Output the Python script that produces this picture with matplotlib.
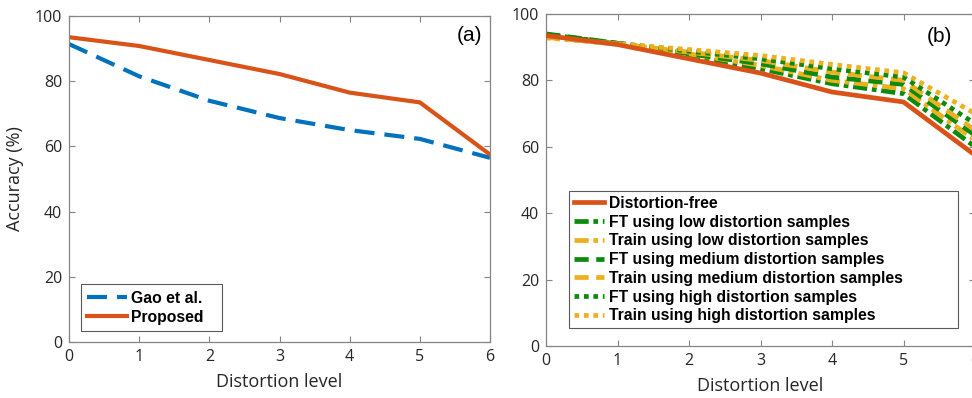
import matplotlib.pyplot as plt
import numpy as np

# distortion levels on the x axis
levels = [0, 1, 2, 3, 4, 5, 6]

# panel (a)
gao = [91.4, 81.5, 74.0, 68.7, 65.0, 62.3, 56.5]
proposed = [93.5, 90.8, 86.5, 82.2, 76.5, 73.5, 57.5]

# panel (b)
free = [93.5, 90.8, 86.5, 82.2, 76.5, 73.5, 57.5]
ft_low = [93.8, 91.0, 87.3, 83.5, 79.0, 76.0, 60.0]
train_low = [93.0, 91.0, 88.0, 84.5, 80.0, 77.5, 62.0]
ft_med = [94.0, 91.2, 88.0, 85.0, 81.0, 78.8, 63.5]
train_med = [93.0, 91.0, 88.5, 86.0, 82.5, 80.0, 65.0]
ft_high = [93.8, 91.2, 88.8, 86.5, 83.5, 81.0, 67.0]
train_high = [92.8, 91.0, 89.3, 87.5, 84.8, 82.3, 70.0]

yticks = [0, 20, 40, 60, 80, 100]

blue = '#0072BD'
orange = '#D95319'
green = '#0b8a0b'
yellow = '#EDB120'
axcol = '#858585'
txtcol = '#262626'

plt.rcParams['font.family'] = ['Open Sans', 'DejaVu Sans']

fig = plt.figure(figsize=(9.72, 3.98), dpi=100)
W, H = 972, 398
ax1 = fig.add_axes([69 / W, 1 - 342 / H, (490 - 69) / W, (342 - 16) / H])
ax2 = fig.add_axes([546 / W, 1 - 346 / H, (975 - 546) / W, (346 - 14) / H])


def style(ax):
    ax.set_xlim(0, 6)
    ax.set_ylim(0, 100)
    ax.set_xticks(levels)
    ax.set_yticks(yticks)
    for s in ax.spines.values():
        s.set_color(axcol)
        s.set_linewidth(0.9)
    ax.tick_params(direction='in', length=4, width=0.8, color=axcol,
                   labelcolor=txtcol, labelsize=11.5, top=True, right=True, pad=5)
    ax.set_xlabel('Distortion level', fontsize=13, color=txtcol, labelpad=6)


legfont = {'family': 'Liberation Sans', 'weight': 'bold', 'size': 11.3}

style(ax1)
ax1.plot(levels, gao, color=blue, lw=3, dashes=(4.8, 2.4), label='Gao et al.')
ax1.plot(levels, proposed, color=orange, lw=3, label='Proposed')
ax1.set_ylabel('Accuracy (%)', fontsize=13, color=txtcol, labelpad=8)
ax1.text(0.952, 0.94, '(a)', transform=ax1.transAxes, ha='center', va='center',
         fontsize=15, color='black', family='Liberation Sans')
leg1 = ax1.legend(loc='lower left', bbox_to_anchor=(0.0285, 0.034, 0.335, 0.2),
                  mode='expand', fancybox=False, edgecolor='#303030',
                  handlelength=2.5, borderpad=0.4, borderaxespad=0,
                  labelspacing=0.25, handletextpad=0.3, prop=legfont)
leg1.get_frame().set_linewidth(0.8)

style(ax2)
lw = 3.4
ax2.plot(levels, free, color=orange, lw=lw, label='Distortion-free', zorder=3)
ax2.plot(levels, ft_low, color=green, lw=lw, dashes=(3.0, 1.0, 1.0, 1.0),
         label='FT using low distortion samples')
ax2.plot(levels, train_low, color=yellow, lw=lw, dashes=(3.0, 1.0, 1.0, 1.0),
         label='Train using low distortion samples')
ax2.plot(levels, ft_med, color=green, lw=lw, dashes=(3.0, 1.6),
         label='FT using medium distortion samples')
ax2.plot(levels, train_med, color=yellow, lw=lw, dashes=(3.0, 1.6),
         label='Train using medium distortion samples')
ax2.plot(levels, ft_high, color=green, lw=lw, dashes=(1.0, 1.0),
         label='FT using high distortion samples')
ax2.plot(levels, train_high, color=yellow, lw=lw, dashes=(1.0, 1.0),
         label='Train using high distortion samples')
ax2.text(0.918, 0.931, '(b)', transform=ax2.transAxes, ha='center', va='center',
         fontsize=15, color='black', family='Liberation Sans')
leg2 = ax2.legend(loc='lower left', bbox_to_anchor=(0.0536, 0.054, 0.907, 0.4),
                  mode='expand', fancybox=False, edgecolor='#303030',
                  handlelength=1.95, borderpad=0.3, borderaxespad=0,
                  labelspacing=0.24, handletextpad=0.3, prop=legfont)
leg2.get_frame().set_linewidth(0.8)

fig.savefig('out.png', dpi=100)
